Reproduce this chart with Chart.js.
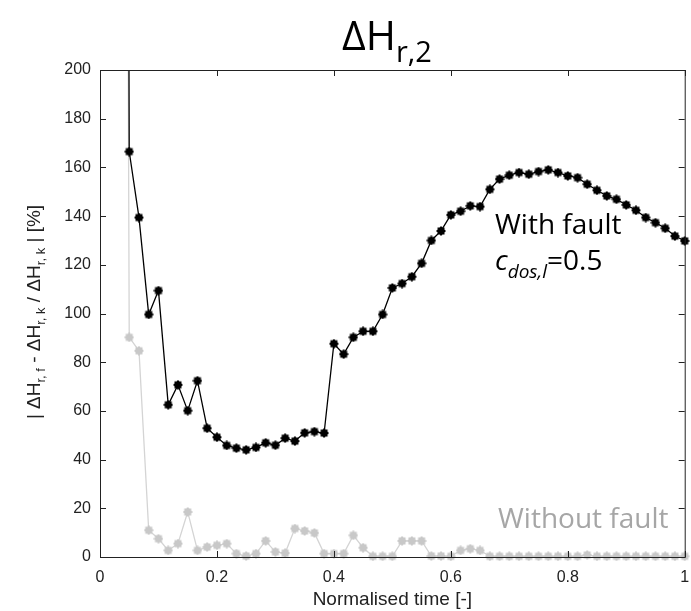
<!DOCTYPE html>
<html>
<head>
<meta charset="utf-8">
<script src="https://cdn.jsdelivr.net/npm/chart.js@4.4.1/dist/chart.umd.min.js"></script>
<style>
  html, body { margin: 0; padding: 0; background: #fff; }
  #wrap { width: 691px; height: 611px; }
</style>
</head>
<body>
<div id="wrap"><canvas id="chart"></canvas></div>
<script>
// normalised time of each sample
const timePoints = [0.0333, 0.05, 0.0667, 0.0833, 0.1, 0.1167, 0.1333, 0.15, 0.1667, 0.1833,
  0.2, 0.2167, 0.2333, 0.25, 0.2667, 0.2833, 0.3, 0.3167, 0.3333, 0.35,
  0.3667, 0.3833, 0.4, 0.4167, 0.4333, 0.45, 0.4667, 0.4833, 0.5, 0.5167,
  0.5333, 0.55, 0.5667, 0.5833, 0.6, 0.6167, 0.6333, 0.65, 0.6667, 0.6833,
  0.7, 0.7167, 0.7333, 0.75, 0.7667, 0.7833, 0.8, 0.8167, 0.8333, 0.85,
  0.8667, 0.8833, 0.9, 0.9167, 0.9333, 0.95, 0.9667, 0.9833, 1.0];

// relative error [%], with fault (c_dos,l = 0.5)
const withFault = [1500, 166.5, 139.4, 99.6, 109.4, 62.5, 70.7, 60.1, 72.4, 52.9,
  49.2, 45.8, 44.7, 44.0, 45.0, 46.9, 45.9, 48.8, 47.6, 51.0,
  51.5, 50.9, 87.6, 83.3, 90.2, 92.7, 92.7, 99.6, 110.5, 112.3,
  115.1, 120.6, 130.0, 133.9, 140.5, 142.0, 144.2, 143.9, 151.0, 155.2,
  156.8, 157.9, 157.2, 158.3, 159.0, 157.9, 156.5, 155.8, 153.1, 150.6,
  148.3, 146.9, 144.6, 142.4, 139.4, 137.3, 135.0, 131.8, 129.8];

// relative error [%], without fault
const withoutFault = [1200, 90.2, 84.7, 11.0, 7.5, 2.7, 5.5, 18.5, 2.7, 4.1,
  4.8, 5.5, 1.4, 0.4, 1.4, 6.6, 2.1, 1.6, 11.7, 10.7,
  9.9, 1.4, 1.4, 1.4, 8.9, 3.8, 0.3, 0.3, 0.3, 6.6,
  6.6, 6.6, 0.4, 0.4, 0.3, 2.7, 3.4, 2.7, 0.3, 0.3,
  0.3, 0.3, 0.3, 0.3, 0.3, 0.3, 0.3, 0.3, 0.8, 0.3,
  0.3, 0.3, 0.3, 0.3, 0.3, 0.3, 0.3, 0.3, 0.3];

const xTicks = [0, 0.2, 0.4, 0.6, 0.8, 1];
const yTicks = [0, 20, 40, 60, 80, 100, 120, 140, 160, 180, 200];

const AXIS_COLOR = '#222';
const TICK_FONT = '"Liberation Sans", Arial, sans-serif';
const TEXT_FONT = '"Open Sans", sans-serif';

// filled 8-point star, like the matlab markers
function starMarker(color) {
  const c = document.createElement('canvas');
  c.width = c.height = 10;
  const g = c.getContext('2d');
  g.fillStyle = color;
  g.beginPath();
  for (let k = 0; k < 16; k++) {
    const a = k * Math.PI / 8;
    const r = k % 2 ? 3.7 : 5;
    g.lineTo(5 + r * Math.cos(a), 5 + r * Math.sin(a));
  }
  g.closePath();
  g.fill();
  return c;
}

function toPoints(values) {
  return timePoints.map((t, i) => ({ x: t, y: values[i] }));
}

// draws a list of text runs one after another, returns end x
function drawRuns(ctx, runs, x, y) {
  runs.forEach(r => {
    ctx.font = r.font;
    ctx.fillText(r.text, x, y + (r.dy || 0));
    x += ctx.measureText(r.text).width;
  });
  return x;
}

function runsWidth(ctx, runs) {
  let w = 0;
  runs.forEach(r => { ctx.font = r.font; w += ctx.measureText(r.text).width; });
  return w;
}

const decorations = {
  id: 'decorations',
  afterDraw(chart) {
    const { ctx, chartArea: a, scales } = chart;
    ctx.save();

    // box + inward ticks
    ctx.strokeStyle = AXIS_COLOR;
    ctx.lineWidth = 1;
    ctx.strokeRect(a.left + 0.5, a.top + 0.5, a.right - a.left, a.bottom - a.top);
    ctx.beginPath();
    xTicks.forEach(v => {
      const px = Math.round(scales.x.getPixelForValue(v)) + 0.5;
      ctx.moveTo(px, a.bottom); ctx.lineTo(px, a.bottom - 6);
      ctx.moveTo(px, a.top); ctx.lineTo(px, a.top + 6);
    });
    yTicks.forEach(v => {
      const py = Math.round(scales.y.getPixelForValue(v)) + 0.5;
      ctx.moveTo(a.left, py); ctx.lineTo(a.left + 6, py);
      ctx.moveTo(a.right, py); ctx.lineTo(a.right - 6, py);
    });
    ctx.stroke();

    ctx.textBaseline = 'alphabetic';
    ctx.textAlign = 'left';

    // title
    ctx.fillStyle = '#000';
    drawRuns(ctx, [
      { text: '\u0394H', font: '41px ' + TEXT_FONT },
      { text: 'r,2', font: '29px ' + TEXT_FONT, dy: 12 }
    ], 342, 50);

    // y axis title
    const big = '19px ' + TICK_FONT;
    const sub = '13px ' + TICK_FONT;
    const yRuns = [
      { text: '| \u0394H', font: big }, { text: 'r, f', font: sub, dy: 5 },
      { text: ' - \u0394H', font: big }, { text: 'r, k', font: sub, dy: 5 },
      { text: ' / \u0394H', font: big }, { text: 'r, k', font: sub, dy: 5 },
      { text: ' | [%]', font: big }
    ];
    ctx.save();
    ctx.translate(40, 312);
    ctx.rotate(-Math.PI / 2);
    ctx.fillStyle = AXIS_COLOR;
    drawRuns(ctx, yRuns, -runsWidth(ctx, yRuns) / 2, 0);
    ctx.restore();

    // annotations
    ctx.fillStyle = '#000';
    drawRuns(ctx, [{ text: 'With fault', font: '28px ' + TEXT_FONT }], 495, 234);
    drawRuns(ctx, [
      { text: 'c', font: 'italic 28px ' + TEXT_FONT },
      { text: 'dos,l', font: 'italic 19px ' + TEXT_FONT, dy: 8 },
      { text: '=0.5', font: '28px ' + TEXT_FONT }
    ], 495, 270);
    ctx.fillStyle = '#a6a6a6';
    drawRuns(ctx, [{ text: 'Without fault', font: '28px ' + TEXT_FONT }], 498, 528);

    ctx.restore();
  }
};

new Chart(document.getElementById('chart'), {
  type: 'line',
  data: {
    datasets: [
      {
        label: 'With fault',
        data: toPoints(withFault),
        borderColor: '#000',
        borderWidth: 1.3,
        pointStyle: starMarker('#000'),
        pointRadius: 5,
        clip: { left: 6, right: 6, top: 0, bottom: 6 }
      },
      {
        label: 'Without fault',
        data: toPoints(withoutFault),
        borderColor: '#d4d4d4',
        borderWidth: 1.3,
        pointStyle: starMarker('#c8c8c8'),
        pointRadius: 5,
        clip: { left: 6, right: 6, top: 0, bottom: 6 }
      }
    ]
  },
  options: {
    responsive: true,
    maintainAspectRatio: false,
    animation: false,
    layout: { padding: { top: 70, right: 3, left: 0, bottom: 0 } },
    plugins: {
      legend: { display: false },
      tooltip: { enabled: false }
    },
    scales: {
      x: {
        type: 'linear',
        min: 0,
        max: 1,
        afterBuildTicks(scale) { scale.ticks = xTicks.map(v => ({ value: v })); },
        afterFit(scale) {
          scale.height = 54;
          scale.paddingLeft = 0;
          scale.paddingRight = 0;
        },
        grid: { display: false },
        border: { display: false },
        ticks: {
          padding: 3,
          color: AXIS_COLOR,
          font: { family: TICK_FONT, size: 16 },
          maxRotation: 0,
          callback: v => String(v)
        },
        title: {
          display: true,
          text: 'Normalised time [-]',
          color: AXIS_COLOR,
          font: { family: TICK_FONT, size: 19 },
          padding: { top: 0, bottom: 0 }
        }
      },
      y: {
        min: 0,
        max: 200,
        afterBuildTicks(scale) { scale.ticks = yTicks.map(v => ({ value: v })); },
        afterFit(scale) {
          scale.width = 100;
          scale.paddingTop = 0;
          scale.paddingBottom = 0;
        },
        grid: { display: false },
        border: { display: false },
        ticks: {
          padding: 1,
          color: AXIS_COLOR,
          font: { family: TICK_FONT, size: 16 }
        }
      }
    }
  },
  plugins: [decorations]
});
</script>
</body>
</html>
